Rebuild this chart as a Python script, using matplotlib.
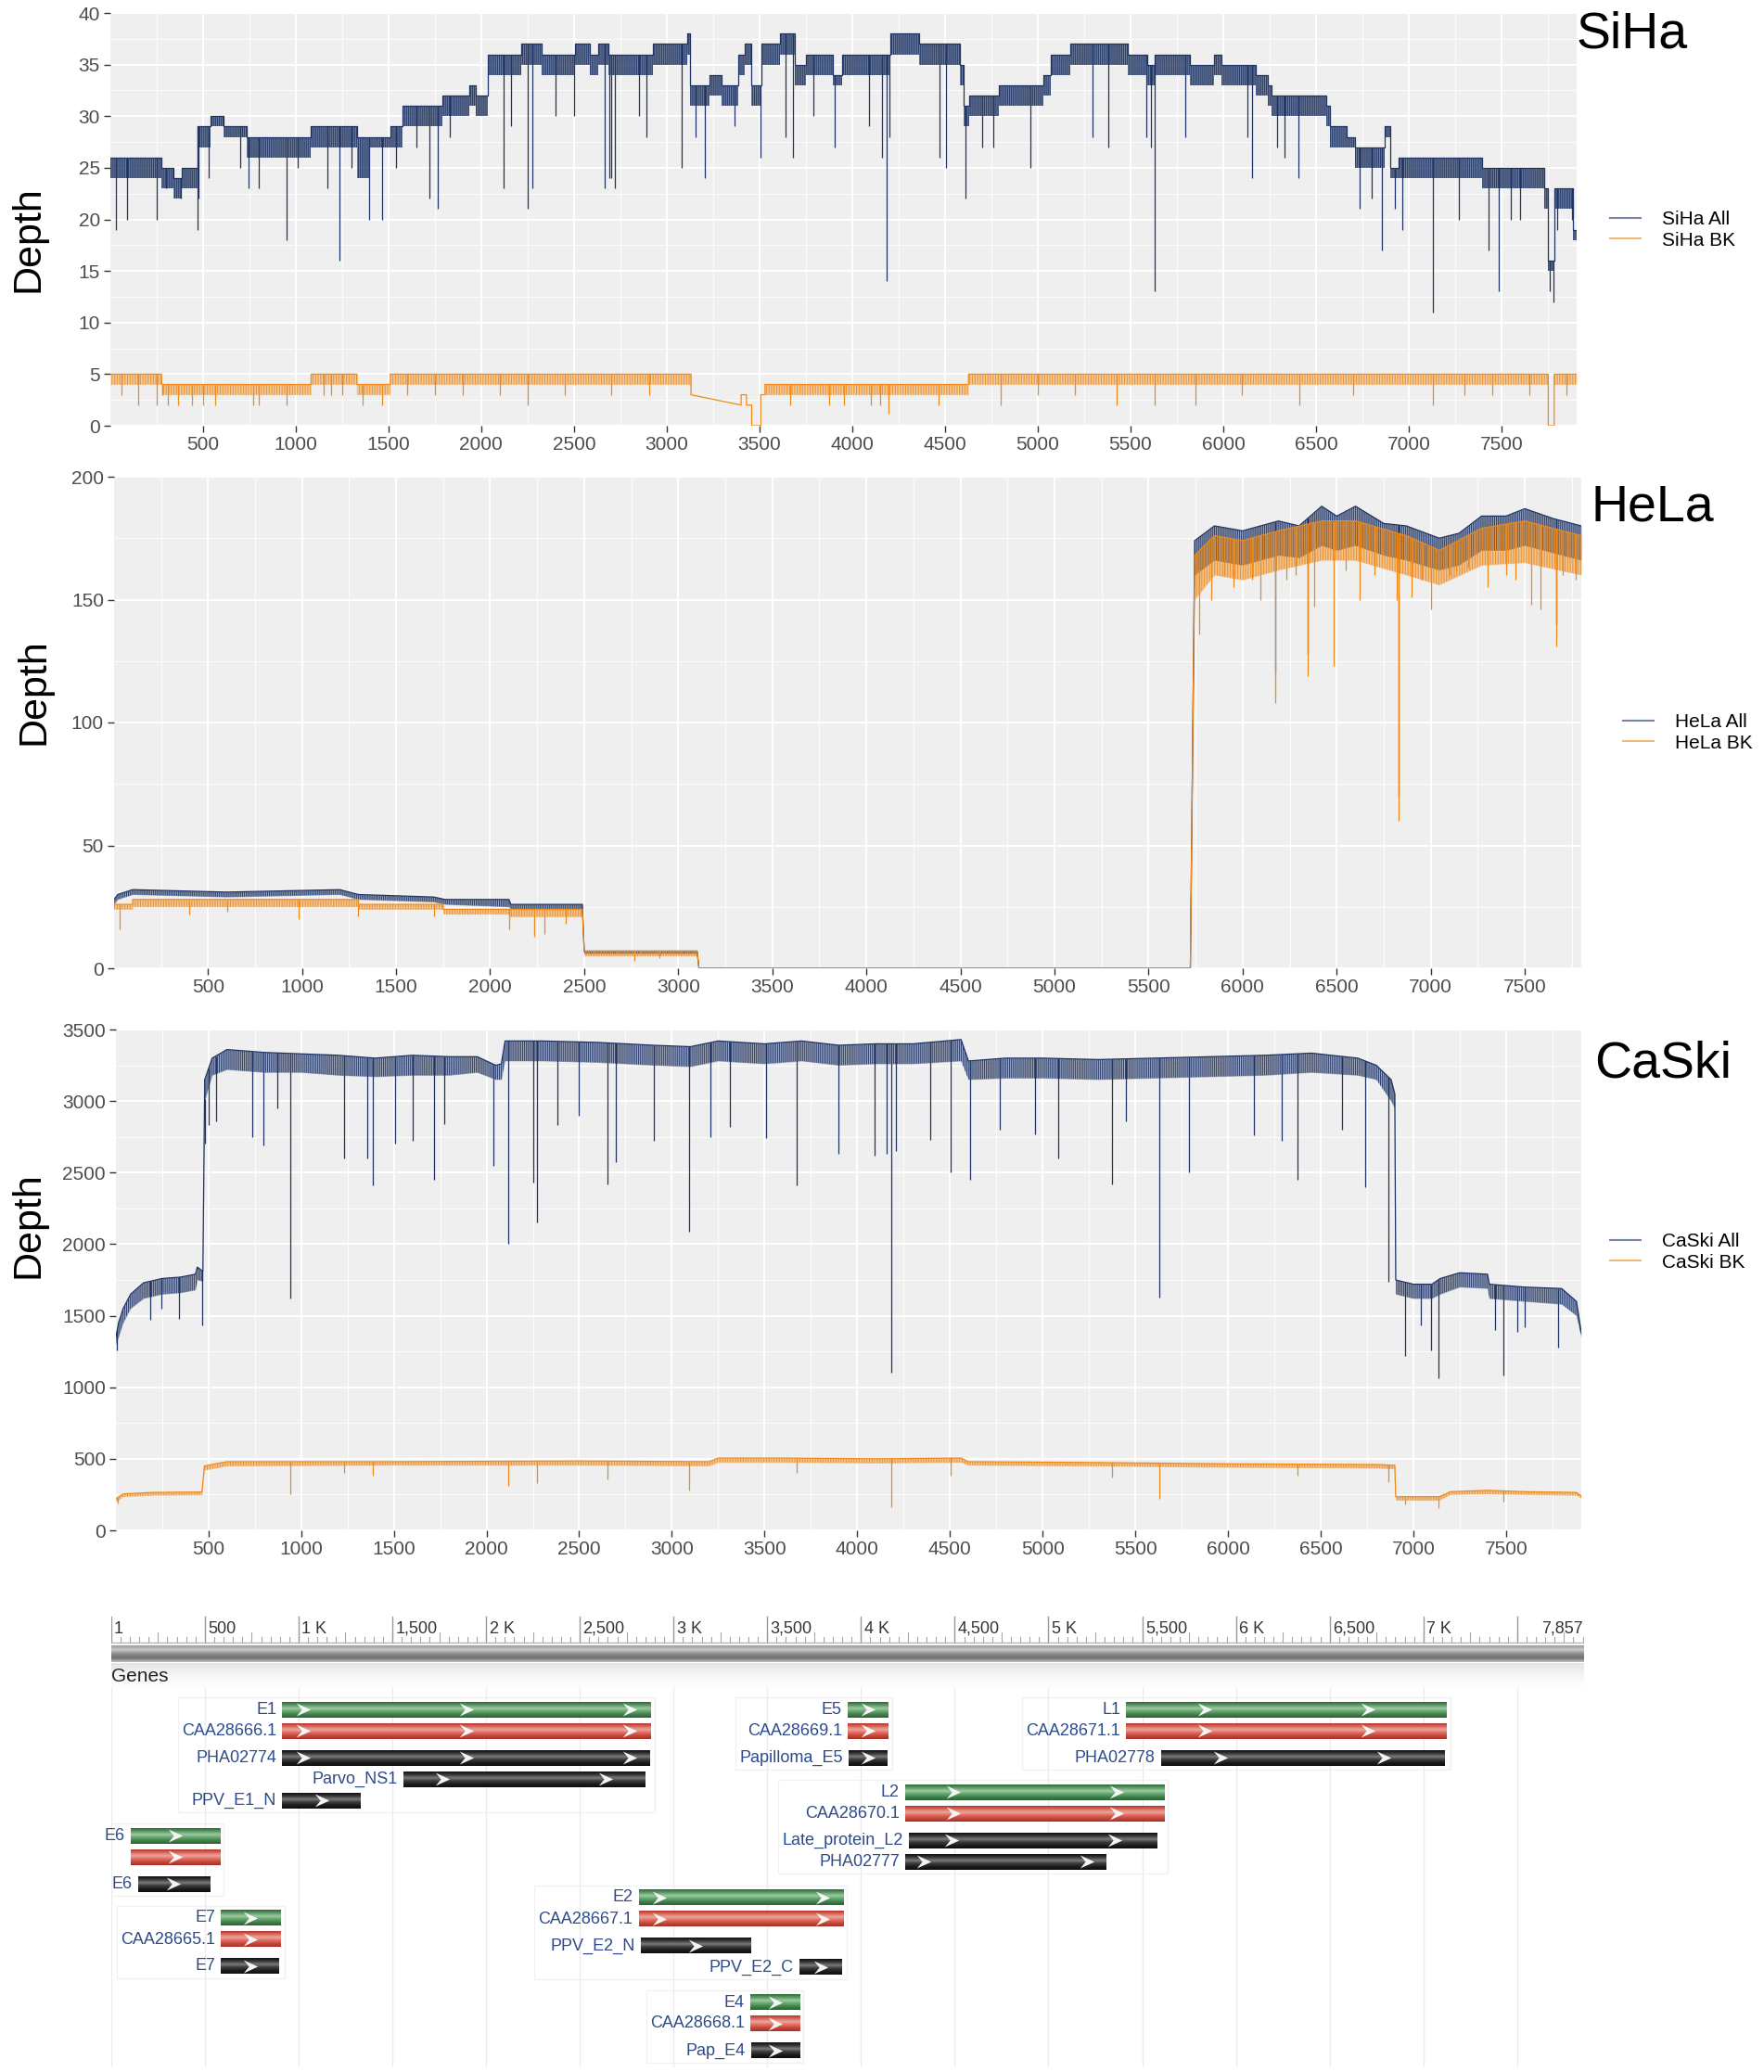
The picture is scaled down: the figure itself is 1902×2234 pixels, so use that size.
import numpy as np
import matplotlib
matplotlib.use("Agg")
import matplotlib.pyplot as plt
from matplotlib.lines import Line2D
from matplotlib.path import Path
from matplotlib.patches import Rectangle
from matplotlib.colors import LinearSegmentedColormap

plt.rcParams['font.family'] = ['Liberation Sans', 'DejaVu Sans']
plt.rcParams['hatch.linewidth'] = 0.8

# ---------------- data: depth tracks ----------------
# segments: (start, end, top of trace, lower edge of the dense flicker band)
siha_all_seg = [
    (1, 277, 26, 24), (277, 340, 25, 23), (340, 388, 24, 22), (388, 473, 25, 23),
    (473, 540, 29, 27), (540, 612, 30, 29), (612, 736, 29, 28), (736, 1083, 28, 26),
    (1083, 1330, 29, 27), (1330, 1400, 28, 24), (1400, 1510, 28, 27), (1510, 1577, 29, 27),
    (1577, 1790, 31, 29), (1790, 1936, 32, 30), (1936, 1970, 33, 31), (1970, 2037, 32, 30),
    (2037, 2216, 36, 34), (2216, 2328, 37, 35), (2328, 2508, 36, 34), (2508, 2586, 37, 35),
    (2586, 2631, 36, 34), (2631, 2687, 37, 35), (2687, 2927, 36, 34), (2927, 3110, 37, 35),
    (3110, 3125, 38, 36), (3125, 3229, 33, 31), (3229, 3297, 34, 32), (3297, 3385, 33, 31),
    (3385, 3420, 36, 34), (3420, 3458, 37, 35), (3458, 3510, 33, 31), (3510, 3613, 37, 35),
    (3613, 3693, 38, 36), (3693, 3749, 35, 33), (3749, 3894, 36, 34), (3894, 3946, 34, 33),
    (3946, 4206, 36, 34), (4206, 4362, 38, 36), (4362, 4580, 37, 35), (4580, 4601, 35, 33),
    (4601, 4632, 31, 29), (4632, 4788, 32, 30), (4788, 5028, 33, 31), (5028, 5070, 34, 32),
    (5070, 5174, 36, 34), (5174, 5486, 37, 35), (5486, 5590, 36, 34), (5590, 5632, 35, 33),
    (5632, 5818, 36, 34), (5818, 5952, 35, 33), (5952, 5992, 36, 34), (5992, 6175, 35, 33),
    (6175, 6242, 34, 32), (6242, 6260, 33, 31), (6260, 6555, 32, 30), (6555, 6573, 31, 29),
    (6573, 6667, 29, 27), (6667, 6712, 28, 27), (6712, 6868, 27, 25), (6868, 6900, 29, 28),
    (6900, 6947, 25, 24), (6947, 7394, 26, 24), (7394, 7729, 25, 23), (7729, 7752, 23, 21),
    (7752, 7784, 16, 15), (7784, 7886, 23, 21), (7886, 7905, 19, 18),
]
siha_all_dips = [
    (29, 19), (92, 20), (249, 20), (300, 23), (380, 22), (473, 19), (478, 22), (530, 24),
    (700, 25), (745, 23), (800, 23), (949, 18), (1010, 25), (1170, 23), (1236, 16), (1300, 25),
    (1398, 20), (1465, 20), (1540, 25), (1650, 27), (1723, 22), (1768, 21), (1830, 28),
    (2120, 23), (2160, 29), (2250, 21), (2277, 23), (2400, 30), (2500, 30), (2665, 23),
    (2690, 24), (2700, 24), (2720, 23), (2850, 30), (2890, 28), (3083, 25), (3156, 28),
    (3204, 24), (3364, 29), (3507, 26), (3640, 28), (3680, 26), (3790, 30), (3905, 27),
    (4088, 29), (4160, 26), (4185, 14), (4200, 28), (4472, 26), (4505, 25), (4612, 22),
    (4700, 27), (4760, 27), (4961, 25), (5295, 28), (5378, 27), (5583, 28), (5610, 27),
    (5631, 13), (5797, 28), (6130, 28), (6153, 24), (6290, 27), (6330, 26), (6404, 24),
    (6734, 21), (6800, 22), (6857, 17), (6925, 21), (6965, 19), (7132, 11), (7270, 20),
    (7432, 17), (7483, 13), (7550, 20), (7600, 20), (7760, 13), (7779, 12), (7800, 19),
    (7880, 20),
]
siha_bk_seg = [
    (1, 277, 5, 4), (277, 1083, 4, 3), (1083, 1330, 5, 4), (1330, 1510, 4, 3),
    (1510, 3131, 5, 4), (3131, 3131, 3, 3), (3401, 3401, 2, 2), (3401, 3430, 3, 3),
    (3430, 3458, 2, 2), (3458, 3507, 0, 0), (3507, 3530, 3, 3), (3530, 4627, 4, 3),
    (4627, 7752, 5, 4), (7752, 7784, 0, 0), (7784, 7905, 5, 4),
]
siha_bk_dips = [
    (63, 3), (152, 2), (249, 2), (280, 3), (310, 2), (366, 2), (440, 2), (500, 2), (567, 2),
    (769, 2), (803, 2), (949, 2), (1150, 3), (1190, 3), (1250, 3), (1363, 2), (1465, 2),
    (1600, 3), (1750, 3), (1900, 3), (2100, 3), (2250, 2), (2450, 3), (2700, 3), (2906, 3),
    (3665, 2), (3877, 2), (3956, 2), (4100, 2), (4150, 2), (4195, 1.2), (4466, 2), (4800, 2),
    (5000, 3), (5200, 3), (5423, 2), (5632, 2), (5851, 2), (6100, 3), (6408, 2), (6700, 3),
    (7132, 2), (7300, 3), (7450, 3), (7650, 3), (7850, 3),
]

hela_all_seg = [
    (1, 1, 28, 26), (20, 20, 30, 28), (100, 100, 32, 30), (600, 600, 31, 29),
    (1200, 1200, 32, 30), (1300, 1300, 30, 28), (1700, 1700, 29, 27), (1760, 1760, 28, 26),
    (2100, 2100, 28, 25), (2110, 2110, 26, 24), (2490, 2490, 26, 24), (2500, 2500, 7, 6),
    (3100, 3100, 7, 6), (3110, 3110, 0, 0), (5722, 5722, 0, 0),
    (5745, 5745, 174, 160), (5850, 5850, 180, 166), (6000, 6000, 178, 164),
    (6190, 6190, 182, 168), (6300, 6300, 180, 167), (6420, 6420, 188, 172),
    (6500, 6500, 184, 170), (6600, 6600, 188, 172), (6750, 6750, 181, 168),
    (6870, 6870, 180, 166), (7045, 7045, 175, 162), (7150, 7150, 177, 164),
    (7270, 7270, 184, 170), (7400, 7400, 184, 170), (7500, 7500, 187, 172),
    (7650, 7650, 183, 169), (7800, 7800, 180, 166),
]
hela_all_dips = [(6829, 70), (6171, 120), (6347, 128), (7665, 140)]
hela_bk_seg = [
    (1, 100, 26, 24), (100, 1300, 28, 25), (1300, 1750, 26, 24), (1750, 2100, 24, 22),
    (2100, 2490, 24, 21), (2500, 3100, 7, 5), (3110, 3110, 0, 0), (5722, 5722, 0, 0),
    (5745, 5745, 168, 150), (5850, 5850, 176, 160), (6000, 6000, 174, 158),
    (6190, 6190, 178, 162), (6420, 6420, 182, 166), (6600, 6600, 182, 166),
    (6870, 6870, 176, 160), (7045, 7045, 170, 156), (7270, 7270, 179, 164),
    (7500, 7500, 182, 165), (7800, 7800, 176, 160),
]
hela_bk_dips = [
    (30, 16), (400, 22), (600, 23), (980, 20), (1300, 21), (1700, 21), (2100, 16),
    (2235, 13), (2290, 14), (2400, 18), (2765, 3), (2900, 4), (5767, 136), (5833, 150),
    (5900, 160), (5950, 155), (6050, 158), (6096, 150), (6171, 108), (6230, 158),
    (6280, 160), (6347, 119), (6380, 147), (6482, 123), (6550, 162), (6620, 150),
    (6700, 160), (6820, 150), (6829, 60), (6900, 151), (6950, 158), (7000, 146),
    (7100, 160), (7135, 162), (7200, 163), (7300, 155), (7400, 160), (7450, 158),
    (7533, 148), (7584, 146), (7665, 131), (7700, 160), (7769, 158),
]

caski_all_seg = [
    (1, 1, 1350, 1300), (15, 15, 1450, 1350), (40, 40, 1550, 1450), (80, 80, 1650, 1550),
    (150, 150, 1730, 1620), (250, 250, 1760, 1650), (350, 350, 1770, 1660),
    (430, 430, 1790, 1680), (440, 440, 1840, 1750), (470, 470, 1810, 1740),
    (480, 480, 3150, 3000), (520, 520, 3300, 3180), (600, 600, 3360, 3220),
    (800, 800, 3340, 3200), (1000, 1000, 3330, 3200), (1200, 1200, 3320, 3180),
    (1400, 1400, 3300, 3170), (1600, 1600, 3320, 3180), (1800, 1800, 3310, 3180),
    (1950, 1950, 3310, 3200), (2050, 2050, 3250, 3150), (2080, 2080, 3260, 3150),
    (2100, 2100, 3420, 3280), (2300, 2300, 3420, 3280), (2600, 2600, 3410, 3270),
    (2900, 2900, 3390, 3250), (3100, 3100, 3380, 3240), (3250, 3250, 3420, 3280),
    (3500, 3500, 3400, 3260), (3700, 3700, 3420, 3280), (3900, 3900, 3390, 3250),
    (4100, 4100, 3400, 3260), (4300, 4300, 3400, 3260), (4560, 4560, 3430, 3280),
    (4600, 4600, 3280, 3150), (4800, 4800, 3300, 3160), (5000, 5000, 3300, 3160),
    (5300, 5300, 3290, 3150), (5600, 5600, 3300, 3160), (5900, 5900, 3310, 3170),
    (6200, 6200, 3320, 3180), (6450, 6450, 3335, 3200), (6700, 6700, 3300, 3180),
    (6800, 6800, 3250, 3150), (6880, 6880, 3150, 3000), (6900, 6900, 3050, 2950),
    (6905, 6905, 1750, 1650), (7000, 7000, 1720, 1620), (7100, 7100, 1720, 1620),
    (7145, 7145, 1760, 1650), (7250, 7250, 1800, 1700), (7400, 7400, 1790, 1690),
    (7410, 7410, 1720, 1620), (7600, 7600, 1700, 1600), (7800, 7800, 1690, 1580),
    (7880, 7880, 1600, 1500), (7906, 7906, 1380, 1350),
]
caski_all_dips = [
    (8, 1260), (185, 1470), (245, 1550), (342, 1480), (464, 1430), (479, 2700), (500, 2830),
    (540, 2860), (736, 2750), (797, 2690), (870, 2950), (942, 1620), (1230, 2600),
    (1357, 2600), (1388, 2410), (1509, 2700), (1600, 2720), (1715, 2450), (1770, 2840),
    (2039, 2550), (2115, 2000), (2251, 2430), (2272, 2150), (2381, 2830), (2500, 2900),
    (2654, 2420), (2697, 2570), (2903, 2720), (3091, 2090), (3206, 2750), (3312, 2820),
    (3509, 2740), (3675, 2410), (3897, 2630), (4094, 2620), (4158, 2630), (4185, 1100),
    (4210, 2650), (4394, 2730), (4503, 2500), (4609, 2450), (4767, 2800), (4958, 2770),
    (5085, 2600), (5373, 2420), (5450, 2860), (5630, 1630), (5791, 2500), (6140, 2760),
    (6288, 2720), (6376, 2450), (6615, 2800), (6739, 2400), (6864, 1740), (6955, 1220),
    (7039, 1430), (7094, 1260), (7136, 1060), (7439, 1400), (7488, 1080), (7560, 1390),
    (7600, 1420), (7782, 1280),
]
caski_bk_seg = [
    (1, 1, 220, 200), (40, 40, 255, 235), (200, 200, 265, 245), (465, 465, 268, 248),
    (478, 478, 450, 420), (600, 600, 480, 450), (1500, 1500, 480, 455),
    (2500, 2500, 485, 455), (3200, 3200, 480, 450), (3250, 3250, 505, 475),
    (3600, 3600, 505, 475), (4100, 4100, 500, 470), (4560, 4560, 505, 475),
    (4600, 4600, 480, 455), (5200, 5200, 475, 450), (6000, 6000, 465, 440),
    (6800, 6800, 460, 435), (6900, 6900, 455, 430), (6905, 6905, 235, 210),
    (7140, 7140, 235, 210), (7200, 7200, 270, 250), (7400, 7400, 280, 255),
    (7600, 7600, 270, 250), (7880, 7880, 265, 245), (7906, 7906, 240, 225),
]
caski_bk_dips = [
    (10, 190), (942, 250), (1230, 400), (1388, 380), (2115, 310), (2272, 330), (2654, 355),
    (3091, 280), (3675, 400), (4185, 160), (4503, 380), (5373, 370), (5630, 220),
    (6376, 380), (6864, 340), (6955, 180), (7136, 155), (7488, 200),
]

x_ticks = list(range(500, 8000, 500))

# ---------------- data: gene track ----------------
gene_names = ["E1", "CAA28666.1", "PHA02774", "Parvo_NS1", "PPV_E1_N",
              "E5", "CAA28669.1", "Papilloma_E5",
              "L1", "CAA28671.1", "PHA02778",
              "L2", "CAA28670.1", "Late_protein_L2", "PHA02777",
              "E6", "", "E6",
              "E2", "CAA28667.1", "PPV_E2_N", "PPV_E2_C",
              "E7", "CAA28665.1", "E7",
              "E4", "CAA28668.1", "Pap_E4"]
gene_start = [913, 913, 913, 1559, 913,
              3930, 3930, 3935,
              5415, 5415, 5600,
              4236, 4236, 4256, 4236,
              105, 105, 143,
              2814, 2814, 2824, 3673,
              587, 587, 587,
              3409, 3409, 3414]
gene_end = [2878, 2878, 2875, 2846, 1333,
            4147, 4147, 4142,
            7124, 7124, 7109,
            5618, 5618, 5578, 5307,
            581, 581, 524,
            3905, 3905, 3409, 3898,
            904, 904, 898,
            3673, 3673, 3673]
gene_kind = ["gene", "cds", "dom", "dom", "dom",
             "gene", "cds", "dom",
             "gene", "cds", "dom",
             "gene", "cds", "dom", "dom",
             "gene", "cds", "dom",
             "gene", "cds", "dom", "dom",
             "gene", "cds", "dom",
             "gene", "cds", "dom"]
gene_group = ["E1"] * 5 + ["E5"] * 3 + ["L1"] * 3 + ["L2"] * 4 + ["E6"] * 3 + \
             ["E2"] * 4 + ["E7"] * 3 + ["E4"] * 3
gene_slot = [0, 1, 2, 3, 4, 0, 1, 2, 0, 1, 2, 0, 1, 2, 3, 0, 1, 2,
             0, 1, 2, 3, 0, 1, 2, 0, 1, 2]
ruler_ticks = list(range(500, 8000, 500))
ruler_labels = ["500", "1 K", "1,500", "2 K", "2,500", "3 K", "3,500", "4 K", "4,500",
                "5 K", "5,500", "6 K", "6,500", "7 K", ""]
genome_len = 7857

# ---------------- layout / style ----------------
W, H = 1902, 2234
navy = '#1f3464'
orange = '#ee8a1a'
tick_grey = '#4d4d4d'

fig = plt.figure(figsize=(W / 100, H / 100), dpi=100)


def px_axes(left, top, right, bottom):
    return fig.add_axes([left / W, 1 - bottom / H, (right - left) / W, (bottom - top) / H])


def draw_track(ax, segs, dips, color, fill_alpha, hatch):
    xs, tops, lows = [], [], []
    for s, e, t, l in segs:
        xs += [s, e]
        tops += [t, t]
        lows += [l, l]
    # dense flicker band: light wash plus fine vertical strokes
    ax.fill_between(xs, lows, tops, color=color, alpha=fill_alpha, lw=0)
    ax.fill_between(xs, lows, tops, facecolor='none', edgecolor=color, hatch=hatch,
                    lw=0, alpha=0.85)
    ax.plot(xs, tops, color=color, lw=0.9)
    dx = [p for p, v in dips]
    dv = [v for p, v in dips]
    ax.vlines(dx, dv, np.interp(dx, xs, tops), color=color, lw=0.9)


def setup_panel(ax, xmax, yticks, ymax):
    ax.set_facecolor('#efefef')
    ax.set_xlim(1, xmax)
    ax.set_ylim(0, ymax)
    xt = [t for t in x_ticks if t <= xmax]
    ax.set_xticks(xt, [str(t) for t in xt])
    ax.set_xticks([t - 250 for t in x_ticks] + [x_ticks[-1] + 250], minor=True)
    ax.set_yticks(yticks, [str(t) for t in yticks])
    step = yticks[1] - yticks[0]
    ax.set_yticks([t + step / 2 for t in yticks[:-1]], minor=True)
    ax.grid(which='major', color='white', lw=1.4)
    ax.grid(which='minor', color='white', lw=0.6)
    ax.set_axisbelow(True)
    for sp in ax.spines.values():
        sp.set_visible(False)
    ax.tick_params(which='major', length=5, width=1, color='#333333',
                   labelsize=15, labelcolor=tick_grey, pad=3)
    ax.tick_params(which='minor', length=0)
    ax.set_xlim(1, xmax)


panels = [
    ("SiHa", (119, 14, 1700, 459), 7905, list(range(0, 45, 5)), 40,
     siha_all_seg, siha_all_dips, siha_bk_seg, siha_bk_dips, 0.6, 0.35,
     (1700, 12), (31, 258), (1736, 248)),
    ("HeLa", (123, 514, 1705, 1044), 7800, [0, 50, 100, 150, 200], 200,
     hela_all_seg, hela_all_dips, hela_bk_seg, hela_bk_dips, 0.4, 0.4,
     (1716, 521), (36, 746), (1750, 790)),
    ("CaSki", (125, 1110, 1705, 1650), 7906, list(range(0, 4000, 500)), 3500,
     caski_all_seg, caski_all_dips, caski_bk_seg, caski_bk_dips, 0.35, 0.4,
     (1719, 1122), (31, 1321), (1736, 1350)),
]

for (name, box, xmax, yticks, ymax, a_seg, a_dips, b_seg, b_dips, a_alpha, b_alpha,
     title_xy, ylab_xy, leg_xy) in panels:
    ax = px_axes(*box)
    setup_panel(ax, xmax, yticks, ymax)
    draw_track(ax, a_seg, a_dips, navy, a_alpha, '|' * 8)
    draw_track(ax, b_seg, b_dips, orange, b_alpha, '|' * 6)
    fig.text(title_xy[0] / W, 1 - title_xy[1] / H, name, fontsize=40,
             ha='left', va='top', color='black')
    fig.text(ylab_xy[0] / W, 1 - ylab_xy[1] / H, "Depth", fontsize=31,
             rotation=90, ha='center', va='center', color='black')
    handles = [Line2D([], [], color=navy, alpha=0.6, lw=1.5),
               Line2D([], [], color=orange, alpha=0.6, lw=1.5)]
    ax.legend(handles, [f"{name} All", f"{name} BK"], loc='center left',
              bbox_to_anchor=(leg_xy[0] / W, 1 - leg_xy[1] / H),
              bbox_transform=fig.transFigure, frameon=False, fontsize=15,
              handlelength=1.6, handletextpad=1.1, labelspacing=0.15,
              borderpad=0, borderaxespad=0)

# ---------------- gene track ----------------
gx = px_axes(120, 1735, 1708, 2234)
gx.set_xlim(1, genome_len)
gx.set_ylim(2234, 1735)
gx.axis('off')

group_top = {"E1": 1843, "E5": 1843, "L1": 1843, "L2": 1932, "E6": 1979,
             "E2": 2046, "E7": 2068, "E4": 2159}
slot_offset = [0, 23, 52, 75, 98]
bar_h = 17

# vertical guides
for t in [1] + ruler_ticks:
    gx.plot([t, t], [1794, 2228], color='#ececec', lw=1, zorder=0)

# ruler
for t in range(50, genome_len, 50):
    gx.plot([t, t], [1765 if t % 250 else 1760, 1771], color='#a8a8a8', lw=0.8, zorder=1)
for t in [1] + ruler_ticks:
    gx.plot([t, t], [1743, 1771], color='#9a9a9a', lw=1, zorder=1)
gx.plot([1, genome_len], [1771, 1771], color='#b5b5b5', lw=1, zorder=1)
gx.annotate("1", xy=(1, 1756), xytext=(2, 0), textcoords='offset points',
            ha='left', va='center', fontsize=13, color='#333333')
for t, lab in zip(ruler_ticks, ruler_labels):
    if lab:
        gx.annotate(lab, xy=(t, 1756), xytext=(2.5, 0), textcoords='offset points',
                    ha='left', va='center', fontsize=13, color='#333333')
gx.annotate(f"{genome_len:,}", xy=(genome_len, 1756), xytext=(-1, 0),
            textcoords='offset points', ha='right', va='center', fontsize=13,
            color='#333333')

seq_cmap = LinearSegmentedColormap.from_list(
    'seq', ['#9a9a9a', '#c9c9c9', '#8d8d8d', '#6f6f6f', '#bdbdbd'])
grad = np.linspace(0, 1, 64).reshape(-1, 1)
gx.imshow(grad, cmap=seq_cmap, extent=(1, genome_len, 1792, 1774), aspect='auto',
          interpolation='bilinear', zorder=2)
head_cmap = LinearSegmentedColormap.from_list('head', ['#e4e4e4', '#f6f6f6', '#ffffff'])
gx.imshow(grad, cmap=head_cmap, extent=(1, genome_len, 1820, 1793), aspect='auto',
          interpolation='bilinear', zorder=1)
gx.text(1, 1807, "Genes", fontsize=15, ha='left', va='center', color='#222222', zorder=3)

bar_cmaps = {
    "gene": LinearSegmentedColormap.from_list(
        'g', ['#2f6a38', '#5d9b65', '#9ccaa1', '#64a36d', '#3f8048', '#2b6234']),
    "cds": LinearSegmentedColormap.from_list(
        'r', ['#b2362b', '#dc6c60', '#f0a49b', '#de6a5e', '#c5463a', '#a82f25']),
    "dom": LinearSegmentedColormap.from_list(
        'k', ['#111111', '#383838', '#7a7a7a', '#3a3a3a', '#1c1c1c', '#0d0d0d']),
}
chevron = Path([(-0.6, 0.55), (0.6, 0.0), (-0.6, -0.55), (-0.15, 0.0), (-0.6, 0.55)],
               [Path.MOVETO, Path.LINETO, Path.LINETO, Path.LINETO, Path.CLOSEPOLY])

fig.canvas.draw()
renderer = fig.canvas.get_renderer()
inv = gx.transData.inverted()
group_extent = {}
for name, s, e, kind, grp, slot in zip(gene_names, gene_start, gene_end, gene_kind,
                                       gene_group, gene_slot):
    y = group_top[grp] + slot_offset[slot]
    gx.imshow(grad, cmap=bar_cmaps[kind], extent=(s, e, y + bar_h / 2, y - bar_h / 2),
              aspect='auto', interpolation='bilinear', zorder=3)
    length = e - s
    n = length // 870 + 1
    first = s + (length - (n - 1) * 870) / 2
    cx = [first + k * 870 for k in range(n)]
    gx.plot(cx, [y] * n, ls='none', marker=chevron, ms=11, color='#f4f4f4',
            mec='none', zorder=4)
    x0 = s
    if name:
        t = gx.annotate(name, xy=(s, y), xytext=(-4.5, 0), textcoords='offset points',
                        ha='right', va='center', fontsize=13, color='#2c4b8a', zorder=4)
        bb = t.get_window_extent(renderer)
        x0 = min(x0, inv.transform((bb.x0, bb.y0))[0])
    ext = group_extent.get(grp, [1e9, -1e9, 1e9, -1e9])
    group_extent[grp] = [min(ext[0], x0), max(ext[1], e), min(ext[2], y), max(ext[3], y)]

for grp, (x0, x1, y0, y1) in group_extent.items():
    gx.add_patch(Rectangle((x0 - 20, y0 - 13), x1 - x0 + 40, y1 - y0 + 26,
                           fill=False, ec='#f1f1f1', lw=1, zorder=0.5))

gx.set_xlim(1, genome_len)
gx.set_ylim(2234, 1735)

fig.savefig("out.png", dpi=100)
